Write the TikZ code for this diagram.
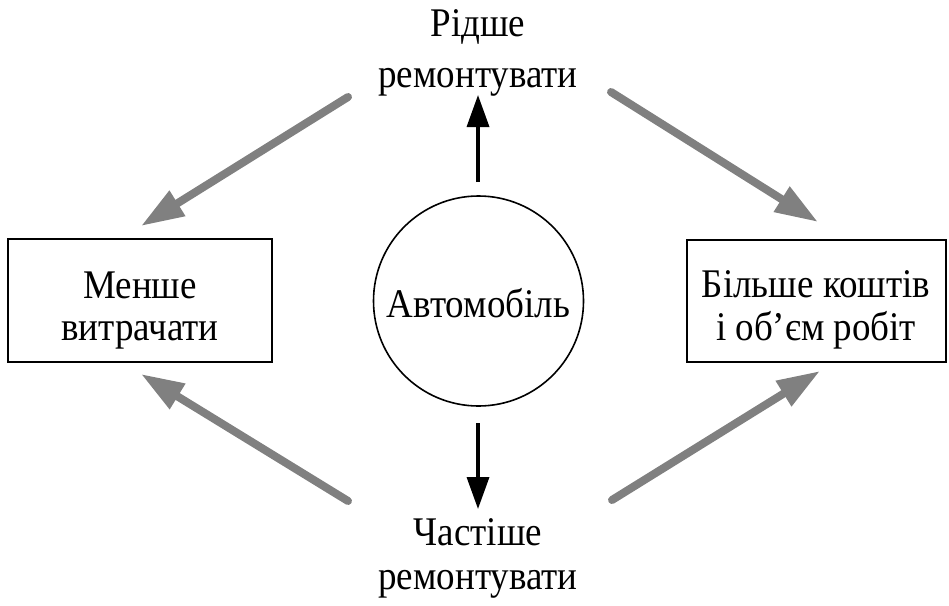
\documentclass[tikz,border=0pt]{standalone}
\usepackage{fontspec}
\usepackage{graphicx}
\setmainfont{Liberation Serif}
\usetikzlibrary{arrows.meta}
\definecolor{arrgray}{HTML}{808080}
\newcommand{\vstr}[1]{\scalebox{1}[1.1]{#1}}
\begin{document}
\begin{tikzpicture}[x=1pt,y=-1pt,
  txt/.style={font=\fontsize{37}{43}\selectfont, inner sep=0pt, anchor=base},
  boxnode/.style={draw, line width=1.6pt},
  graya/.style={draw=arrgray, line width=8pt, line cap=round,
    -{Triangle[length=43pt,width=28pt]}},
  blacka/.style={draw=black, line width=3.5pt,
    -{Triangle[length=32pt,width=22pt]}}]
\useasboundingbox (0,0) rectangle (949,605);
\node[boxnode, minimum width=264pt, minimum height=123pt] (left) at (140,300.5) {};
\node[boxnode, minimum width=259pt, minimum height=122pt] (right) at (816.5,301) {};
\node[draw, circle, line width=1.6pt, minimum size=210pt] (car) at (478.5,301) {};
\node[txt] (l1) at (140,298) {\vstr{Менше}};
\node[txt] (l2) at (140,340) {\vstr{витрачати}};
\node[txt] (r1) at (816,297) {\vstr{Більше коштів}};
\node[txt] (r2) at (816,340) {\vstr{і об’єм робіт}};
\node[txt] (c1) at (478.5,317) {\vstr{Автомобіль}};
\node[txt] (t1) at (478,36) {\vstr{Рідше}};
\node[txt] (t2) at (478,87) {\vstr{ремонтувати}};
\node[txt] (b1) at (478,545) {\vstr{Частіше}};
\node[txt] (b2) at (478,589) {\vstr{ремонтувати}};
\coordinate (upS) at (478,182);
\coordinate (upE) at (478,95);
\coordinate (dnS) at (478,423);
\coordinate (dnE) at (478,509);
\coordinate (tlS) at (348,97);
\coordinate (tlE) at (141,226);
\coordinate (trS) at (611,92);
\coordinate (trE) at (818,222);
\coordinate (blS) at (348,501);
\coordinate (blE) at (141,374);
\coordinate (brS) at (612,500);
\coordinate (brE) at (820,371);
\draw[blacka] (upS) -- (upE);
\draw[blacka] (dnS) -- (dnE);
\draw[graya] (tlS) -- (tlE);
\draw[graya] (trS) -- (trE);
\draw[graya] (blS) -- (blE);
\draw[graya] (brS) -- (brE);
\end{tikzpicture}
\end{document}
